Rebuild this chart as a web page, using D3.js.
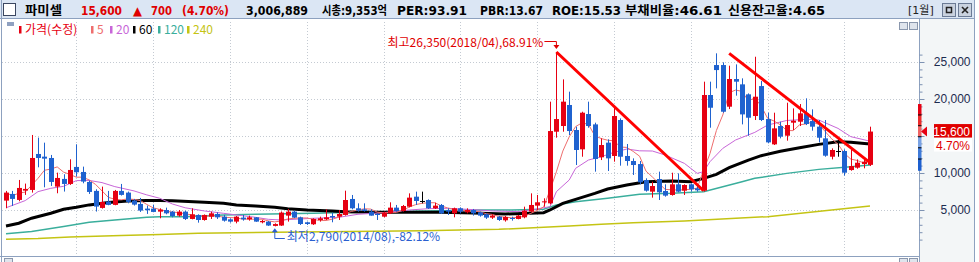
<!DOCTYPE html>
<html>
<head>
<meta charset="utf-8">
<script src="https://cdn.jsdelivr.net/npm/d3@7"></script>
<style>
  body { margin: 0; background: #fff; overflow: hidden; }
  svg { display: block; }
</style>
</head>
<body>
<div id="chart"></div>
<script>
// monthly candles, first one is 2011/02
const startYear = 2011;
const startMonth = 2;

const opens = [
  6270, 7170, 6360, 7620, 7710, 12570, 12210, 12030, 8160, 9200,
  8520, 10820, 10140, 8790, 7580, 5280, 6140, 5690, 7580, 7350,
  6270, 5820, 5190, 5190, 4780, 5000, 4780, 4240, 4780, 3790,
  4330, 3650, 4100, 4460, 4100, 3740, 3430, 3970, 3740, 4010,
  3340, 3430, 2850, 2900, 4240, 4780, 4010, 3340, 3070, 3650,
  3740, 4190, 4100, 4330, 6490, 5230, 5090, 4780, 4460, 4100,
  4550, 5320, 4870, 5450, 6800, 6220, 6350, 5230, 5680, 5000,
  4550, 5230, 4690, 5000, 4690, 4420, 3970, 4100, 3610, 3920,
  3790, 4010, 4780, 5590, 6080, 5900, 15580, 16350, 19190, 15810,
  13200, 17970, 16570, 12120, 14100, 12300, 17160, 12300, 11620, 11210,
  9050, 7480, 9190, 7570, 7030, 8470, 7610, 8470, 7930, 7610,
  20540, 24590, 24590, 18960, 22700, 21980, 20630, 17700, 21750, 17290,
  13870, 16350, 15040, 16800, 16930, 18060, 17020, 16260, 14680, 12200,
  12970, 12970, 10400, 10720, 11210, 11100
];
const highs = [
  7580, 7580, 9060, 8570, 15140, 14780, 14100, 12440, 10050, 9830,
  11850, 13880, 10860, 8970, 7800, 8160, 7580, 7710, 8520, 7490,
  6500, 6630, 5600, 5730, 5230, 5320, 4870, 5000, 4910, 5230,
  4420, 4400, 4780, 4690, 4330, 3880, 4190, 4330, 4240, 4050,
  3650, 3520, 3200, 4800, 5140, 4900, 4100, 3430, 3880, 4100,
  5090, 4640, 5000, 7610, 7030, 5900, 5900, 5090, 4550, 4780,
  6040, 5680, 5680, 7250, 7480, 7480, 6440, 5990, 5810, 5230,
  5320, 5360, 5230, 5140, 4780, 4550, 4420, 4190, 4190, 4100,
  4330, 5450, 7250, 7030, 6580, 19640, 26350, 22650, 20990, 16260,
  18280, 19640, 16800, 14680, 14550, 18960, 17380, 13920, 11980, 11620,
  9280, 8830, 10180, 8470, 10040, 9950, 8470, 8600, 8380, 22340,
  22340, 26170, 24950, 24500, 24680, 22790, 20760, 25710, 22430, 18150,
  18150, 16930, 19500, 18730, 19320, 20090, 18600, 17160, 17160, 13330,
  14550, 13200, 13110, 11840, 11980, 16260
];
const lows = [
  5240, 5550, 6180, 7040, 7350, 10770, 8070, 8250, 7260, 7490,
  8390, 9510, 8610, 7170, 4790, 5190, 5640, 5640, 6950, 5910,
  5600, 4740, 4470, 4700, 3880, 4420, 4010, 4100, 3650, 3740,
  3290, 3560, 3790, 3790, 3430, 3290, 3200, 3560, 3560, 3400,
  3200, 2850, 2790, 2850, 3430, 3900, 2980, 2980, 2980, 3430,
  3650, 3340, 3650, 4240, 5090, 4780, 4780, 4240, 3650, 4010,
  4460, 4780, 4780, 5360, 5680, 5900, 5140, 5140, 4460, 4330,
  4010, 4550, 4550, 4240, 4100, 3790, 3790, 3520, 3430, 3560,
  3740, 3880, 4690, 5000, 5450, 5770, 14770, 15580, 15130, 11080,
  12200, 16120, 10180, 11750, 10270, 11530, 10990, 10990, 9730, 8470,
  7480, 6670, 6350, 6800, 6940, 7390, 7030, 7480, 7480, 7480,
  16120, 21440, 18150, 18640, 20450, 16570, 15040, 17160, 17020, 14010,
  13780, 14680, 14370, 15810, 16350, 16480, 15720, 14140, 12200, 11840,
  12200, 9640, 10310, 10580, 10630, 10940
];
const closes = [
  7350, 6500, 7980, 7850, 12030, 12030, 11940, 8790, 9330, 8520,
  10410, 10100, 8840, 7440, 5460, 6090, 5690, 7580, 7040, 6090,
  5730, 4920, 4970, 4740, 5050, 4550, 4190, 4780, 3790, 4420,
  3650, 4330, 4550, 4010, 3560, 3430, 4100, 3740, 4010, 3430,
  3520, 2900, 3100, 4650, 4780, 3970, 3110, 3110, 3790, 3880,
  4010, 4010, 4460, 6350, 5230, 4910, 4870, 4240, 4330, 4640,
  5320, 4870, 5540, 6670, 6220, 6220, 5230, 5590, 4550, 4780,
  5230, 4780, 5000, 4550, 4240, 3970, 4240, 3650, 4060, 3830,
  4240, 4910, 5680, 6040, 6170, 15670, 17290, 19640, 15670, 13110,
  18150, 16350, 11890, 13780, 11980, 17700, 12200, 11620, 11080, 8740,
  7610, 8240, 7390, 6940, 8470, 7480, 8380, 7790, 7660, 20540,
  18820, 23910, 18280, 22700, 22340, 17920, 17470, 20310, 17160, 14140,
  16030, 14910, 16480, 17070, 18060, 16620, 16260, 14770, 12340, 13110,
  12970, 10040, 10940, 11390, 11530, 15600
];

// longer moving averages: [candle index, value]
const ma20 = [[0,5300],[3,6270],[5,7480],[7,7930],[9,8200],[11,8970],[13,9000],[15,8700],[17,8160],
  [20,7580],[22,7040],[24,6590],[26,5810],[28,5300],[31,4870],[34,4550],[36,4330],[39,4010],[41,3740],
  [43,3650],[45,3740],[48,3880],[52,4010],[55,4420],[59,4640],[63,5000],[66,5180],[69,5230],[73,5050],
  [76,4870],[80,4780],[82,5000],[85,5450],[86,7480],[88,9050],[89,10630],[91,11750],[93,12200],[95,12790],
  [97,13240],[99,13000],[101,12970],[103,12430],[106,11300],[108,9950],[109,10180],[110,11530],[112,13330],
  [114,14460],[117,15490],[119,16480],[122,17100],[125,17250],[127,17160],[130,16030],[132,14910],[135,14300]];
const ma60 = [[0,2850],[2,3210],[4,3890],[7,4560],[9,5100],[11,5370],[13,5690],[16,6000],[19,6230],
  [22,6270],[24,6300],[26,6260],[31,6040],[34,5900],[36,5680],[39,5540],[42,5360],[44,5180],[47,5000],
  [51,4870],[53,4780],[58,4690],[68,4690],[73,4600],[78,4460],[84,4640],[85,5000],[87,5900],[89,6440],
  [92,7250],[94,7840],[97,8380],[100,8830],[104,8920],[107,8830],[109,9280],[111,9820],[113,10720],
  [116,11750],[118,12340],[121,12950],[124,13420],[127,13870],[130,14230],[132,14140],[135,13920]];
const ma120 = [[0,1800],[4,2090],[9,2760],[13,3350],[17,3660],[22,4020],[24,4100],[28,4100],[34,4330],
  [39,4420],[48,4550],[58,4780],[68,4910],[73,5000],[79,5000],[84,5090],[86,5680],[89,6130],[94,6580],
  [99,7120],[104,7250],[109,7480],[112,8150],[115,8830],[117,9280],[122,9950],[127,10490],[132,10850],[135,11080]];
const ma240 = [[0,1050],[5,1150],[10,1350],[18,1550],[24,1700],[30,1850],[42,1980],[50,2050],[65,2200],
  [77,2390],[88,2840],[93,3060],[98,3290],[106,3510],[119,4100],[129,5000],[135,5540]];

// trend lines drawn on the chart: [index, price]
const trendLines = [
  [[86, 26350], [109, 7600]],
  [[113, 26170], [135, 11400]]
];

// price range bar next to the axis (segment bounds, top to bottom)
const rangeBounds = [19320, 17840, 16390, 14900, 13410, 11890, 10300];
const rangeColors = ["#e60012", "#ec2b2b", "#f06464", "#79a2e4", "#3f7ad8", "#1d5fcf"];

const yTicks = [5000, 10000, 15000, 20000, 25000];

// header: text, x, width, colour
const headerItems = [
  ["파미셀", 25, 37, "#000"], ["15,600", 81, 41, "#e00000"], ["▲", 133, 9, "#e00000"], ["700", 151, 21, "#e00000"],
  ["(4.70%)", 182, 47, "#e00000"], ["3,006,889", 246, 62, "#000"], ["시총:9,353억", 322, 65, "#000"],
  ["PER:93.91", 397, 70, "#000"], ["PBR:13.67", 480, 63, "#000"], ["ROE:15.53", 552, 69, "#000"],
  ["부채비율:46.61", 625, 97, "#000"], ["신용잔고율:4.65", 728, 97, "#000"]
];
const legendItems = [
  ["가격(수정)", "#e60012"], ["5", "#ee6e6e"], ["20", "#c866d8"],
  ["60", "#000000"], ["120", "#3aae9c"], ["240", "#c4c414"]
];
const legendX = [19, 91, 110, 133, 158, 187];
const dayChange = "4.70%";

const W = 979, H = 262;
const plotTop = 19, plotBottom = 256.5, axisX = 919.5;
const red = "#e60012", blue = "#1f62cf";

const svg = d3.select("#chart").append("svg")
  .attr("width", W).attr("height", H)
  .style("font-family", "'DejaVu Sans','Noto Sans CJK KR',sans-serif");

const x = d3.scaleLinear().domain([0, closes.length - 1]).range([6, 870]);
const y = d3.scaleLinear().domain([0, 25000]).range([247, 62]);

// backgrounds and frame
svg.append("rect").attr("width", W).attr("height", H).attr("fill", "#ffffff");
svg.append("rect").attr("x", 920).attr("y", plotTop).attr("width", 54).attr("height", H - plotTop).attr("fill", "#f3f6f7");
svg.append("rect").attr("x", 0).attr("y", 0).attr("width", 975).attr("height", 18.5).attr("fill", "#dbe6f4");

const frame = svg.append("g").attr("stroke", "#8da1bf").attr("stroke-width", 1);
frame.append("line").attr("x1", 0).attr("x2", 975).attr("y1", 18.5).attr("y2", 18.5);
frame.append("line").attr("x1", 1.5).attr("x2", 1.5).attr("y1", 0).attr("y2", H);
frame.append("line").attr("x1", 974.5).attr("x2", 974.5).attr("y1", 0).attr("y2", H);
frame.append("line").attr("x1", 0).attr("x2", axisX).attr("y1", plotBottom).attr("y2", plotBottom);
frame.append("line").attr("x1", axisX).attr("x2", axisX).attr("y1", plotTop).attr("y2", H);

// grid
const grid = svg.append("g").attr("stroke", "#c4cad2").attr("stroke-dasharray", "1,2");
grid.selectAll(".hg").data(yTicks).join("line")
  .attr("x1", 2).attr("x2", axisX - 1)
  .attr("y1", d => Math.round(y(d)) + 0.5).attr("y2", d => Math.round(y(d)) + 0.5);
const januaries = d3.range(closes.length).filter(i => (startMonth - 1 + i) % 12 === 0);
grid.selectAll(".vg").data(januaries).join("line")
  .attr("x1", d => Math.round(x(d)) + 0.5).attr("x2", d => Math.round(x(d)) + 0.5)
  .attr("y1", 22).attr("y2", plotBottom - 1);

// moving averages
const line = d3.line().x(d => x(d[0])).y(d => y(d[1]));
const ma5 = closes.map((c, i) => [i, d3.mean(closes.slice(Math.max(0, i - 4), i + 1))]);
const maDefs = [
  [ma240, "#c4c414", 1.5], [ma120, "#3aae9c", 1.5], [ma60, "#000000", 3],
  [ma20, "#c866d8", 1], [ma5, "#ee6e6e", 1]
];
svg.append("g").selectAll("path").data(maDefs).join("path")
  .attr("d", d => line(d[0])).attr("fill", "none")
  .attr("stroke", d => d[1]).attr("stroke-width", d => d[2]);

// candles
const candles = svg.append("g").selectAll("g").data(closes).join("g");
const col = (d, i) => d > opens[i] ? red : d < opens[i] ? blue : "#000";
candles.append("line")
  .attr("x1", (d, i) => Math.round(x(i)) + 0.5).attr("x2", (d, i) => Math.round(x(i)) + 0.5)
  .attr("y1", (d, i) => y(highs[i])).attr("y2", (d, i) => y(lows[i]))
  .attr("stroke", col);
candles.append("rect")
  .attr("x", (d, i) => Math.round(x(i)) - 2).attr("width", 5)
  .attr("y", (d, i) => y(Math.max(d, opens[i])))
  .attr("height", (d, i) => Math.max(1, Math.abs(y(d) - y(opens[i]))))
  .attr("fill", col);

// trend lines
svg.append("g").selectAll("path").data(trendLines).join("path")
  .attr("d", line).attr("stroke", "#ff0000").attr("stroke-width", 3).attr("fill", "none");

// high / low notes
const last = closes[closes.length - 1];
const iMax = d3.maxIndex(highs), iMin = d3.minIndex(lows);
const ym = i => { const m = startMonth - 1 + i; return `${startYear + Math.floor(m / 12)}/${String(m % 12 + 1).padStart(2, "0")}`; };
const pct = v => ((v - last) / last * 100).toFixed(2) + "%";
const fmt = d3.format(",");
const hx = x(iMax), hy = y(highs[iMax]);
svg.append("text").attr("x", hx - 13).attr("y", 47).attr("text-anchor", "end")
  .attr("fill", "#e00000").style("font-family", "'Noto Sans CJK KR'").style("font-size", "12px")
  .text(`최고${fmt(highs[iMax])}(${ym(iMax)}),${pct(highs[iMax])}`);
svg.append("path").attr("d", `M${hx - 12},41.5H${hx}V${hy - 6}`).attr("stroke", "#e00000").attr("fill", "none");
svg.append("path").attr("d", `M${hx - 3},${hy - 7}L${hx + 3},${hy - 7}L${hx},${hy - 3}Z`).attr("fill", "#e00000");

const lx = x(iMin), ly = y(lows[iMin]);
svg.append("text").attr("x", lx + 12).attr("y", 241)
  .attr("fill", "#2a5fd0").style("font-family", "'Noto Sans CJK KR'").style("font-size", "12px")
  .text(`최저${fmt(lows[iMin])}(${ym(iMin)}),${pct(lows[iMin])}`);
svg.append("path").attr("d", `M${lx + 10},238.5H${lx}V${ly + 4}`).attr("stroke", "#2a5fd0").attr("fill", "none");
svg.append("path").attr("d", `M${lx - 3},${ly + 6}L${lx + 3},${ly + 6}L${lx},${ly + 2}Z`).attr("fill", "#2a5fd0");

// y axis; the label under the current price box is hidden, as on the original
const cy = y(last);
const gMinor = svg.append("g").attr("transform", `translate(${axisX},0)`)
  .call(d3.axisRight(y).tickValues(d3.range(1000, 27000, 1000)).tickSize(3).tickFormat(""));
const gy = svg.append("g").attr("transform", `translate(${axisX},0)`)
  .call(d3.axisRight(y).tickValues(yTicks).tickSize(5)
    .tickFormat(d => Math.abs(y(d) - cy) < 16 ? "" : fmt(d)));
[gMinor, gy].forEach(g => {
  g.select(".domain").remove();
  g.selectAll("line").attr("stroke", "#7d92b2");
});
gy.selectAll("text").attr("x", 51).attr("text-anchor", "end").attr("fill", "#1c2b4f")
  .style("font-family", "'Liberation Sans'").style("font-size", "12px");

// price range bar
svg.append("g").selectAll("rect").data(rangeColors).join("rect")
  .attr("x", 918).attr("width", 3.5)
  .attr("y", (d, i) => y(rangeBounds[i])).attr("height", (d, i) => y(rangeBounds[i + 1]) - y(rangeBounds[i]))
  .attr("fill", d => d);
svg.append("g").selectAll("line").data(rangeBounds.slice(1, -1)).join("line")
  .attr("x1", 918).attr("x2", 921.5).attr("y1", d => y(d)).attr("y2", d => y(d)).attr("stroke", "#000");

// current price marker
svg.append("path").attr("d", `M921,${cy}L927,${cy - 5}L927,${cy + 5}Z`).attr("fill", red);
svg.append("rect").attr("x", 934).attr("y", cy - 7.5).attr("width", 38).attr("height", 13.5).attr("fill", "#e00000");
svg.append("text").attr("x", 970).attr("y", cy + 4).attr("text-anchor", "end").attr("fill", "#fff")
  .style("font-family", "'Liberation Sans'").style("font-size", "12px").text(fmt(last));
svg.append("rect").attr("x", 934).attr("y", cy + 6.5).attr("width", 38).attr("height", 13.5).attr("fill", "#fff");
svg.append("text").attr("x", 970).attr("y", cy + 18.5).attr("text-anchor", "end").attr("fill", "#e00000")
  .style("font-family", "'Liberation Sans'").style("font-size", "12px").text(dayChange);

// header
svg.append("rect").attr("x", 3.5).attr("y", 3.5).attr("width", 12).attr("height", 12)
  .attr("fill", "#fff").attr("stroke", "#3a4660");
svg.append("g").selectAll("text").data(headerItems).join("text")
  .attr("x", d => d[1]).attr("y", 14.5).attr("fill", d => d[3])
  .attr("textLength", d => d[2]).attr("lengthAdjust", "spacingAndGlyphs")
  .style("font-size", "12px").style("font-weight", "bold").text(d => d[0]);
svg.append("text").attr("x", 908).attr("y", 14).style("font-size", "11px").attr("fill", "#222").text("[1월]");
[942, 958].forEach((bx, k) => {
  svg.append("rect").attr("x", bx + 0.5).attr("y", 3.5).attr("width", 13).attr("height", 13)
    .attr("fill", "#c9d2df").attr("stroke", "#6b7b95");
  if (k === 0) svg.append("rect").attr("x", bx + 4.5).attr("y", 7.5).attr("width", 5).attr("height", 5)
    .attr("fill", "none").attr("stroke", "#222").attr("stroke-width", 1.5);
  else svg.append("path").attr("d", `M${bx + 4},7L${bx + 10},13M${bx + 10},7L${bx + 4},13`)
    .attr("stroke", "#222").attr("stroke-width", 1.6);
});

// legend
svg.append("rect").attr("x", 7).attr("y", 22).attr("width", 7).attr("height", 4).attr("fill", "#8fa1c1");
const leg = svg.append("g").selectAll("g").data(legendItems).join("g")
  .attr("transform", (d, i) => `translate(${legendX[i]},0)`);
leg.append("rect").attr("x", 0).attr("y", 26).attr("width", 2.5).attr("height", 7.5).attr("fill", d => d[1]);
leg.append("text").attr("x", 6).attr("y", 33.5).attr("fill", d => d[1])
  .style("font-family", "'Noto Sans CJK KR'").style("font-size", "12px").text(d => d[0]);

// small window buttons on the plot
[[899, 22], [909, 22], [899, 258], [909, 258], [4, 258]].forEach(([bx, by]) => {
  svg.append("rect").attr("x", bx + 0.5).attr("y", by + 0.5).attr("width", 8).attr("height", 7)
    .attr("fill", "#dfe4ec").attr("stroke", "#8a97ad");
});
</script>
</body>
</html>
